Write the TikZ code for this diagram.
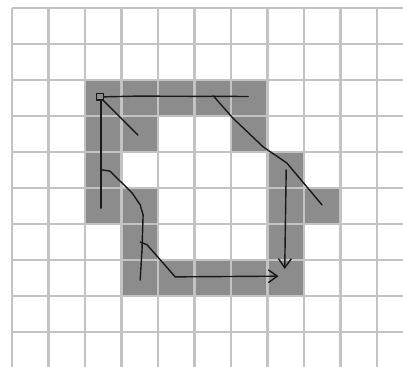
\documentclass[tikz,border=0pt]{standalone}
\usepackage{tikz}
\usetikzlibrary{arrows.meta, calc}
\definecolor{CellGray}{RGB}{140, 140, 140}
\definecolor{GridGray}{RGB}{195, 195, 195}
\definecolor{PenBlack}{RGB}{25, 25, 25}

\tikzset{
  gridline/.style={GridGray, line width=1.7pt},
  pen/.style={PenBlack, line width=1.1pt, line cap=round, line join=round},
  penarrow/.style={pen, -{Straight Barb[length=7pt, width=10pt, line width=1.1pt]}}
}

\begin{document}
\begin{tikzpicture}[x=1cm, y=0.9863cm]
    \useasboundingbox[fill=white] (-0.33,0.22) rectangle (10.71,-9.97);

    % filled cells (column, row)
    \foreach \c/\r in {2/2, 3/2, 4/2, 5/2, 6/2,
                       2/3, 3/3, 6/3,
                       2/4, 7/4,
                       2/5, 3/5, 7/5, 8/5,
                       3/6, 7/6,
                       3/7, 4/7, 5/7, 6/7, 7/7}
      \fill[CellGray] (\c,-\r) rectangle ++(1,-1);

    % grid
    \foreach \i in {0,...,10}
      \draw[gridline] (\i,0) -- (\i,-9.97);
    \foreach \j in {0,...,9}
      \draw[gridline] (0,-\j) -- (10.71,-\j);

    % start point
    \coordinate (start) at (2.41,-2.47);
    \draw[pen] ($(start)+(-0.1,-0.09)$) rectangle ($(start)+(0.1,0.09)$);

    % upper edge and left edge
    \draw[pen] (2.52,-2.47) -- (3.4,-2.45) -- (6.47,-2.46);
    \draw[pen] (2.49,-2.56) -- (3.45,-3.53);
    \draw[pen] (2.44,-2.58) -- (2.44,-5.56);
    \draw[pen] (2.47,-4.5) -- (2.68,-4.53) -- (3.29,-5.14) -- (3.51,-5.47)
      -- (3.59,-5.75) -- (3.56,-6.72) -- (3.51,-7.56);

    % lower edge
    \draw[penarrow] (3.51,-6.5) -- (3.70,-6.58) -- (4.47,-7.47) -- (7.3,-7.45);

    % right edge
    \draw[pen] (5.51,-2.44) -- (6.05,-3.06) -- (6.88,-3.86) -- (7.53,-4.31) -- (8.49,-5.47);
    \draw[penarrow] (7.51,-4.5) -- (7.47,-7.25);
\end{tikzpicture}
\end{document}
